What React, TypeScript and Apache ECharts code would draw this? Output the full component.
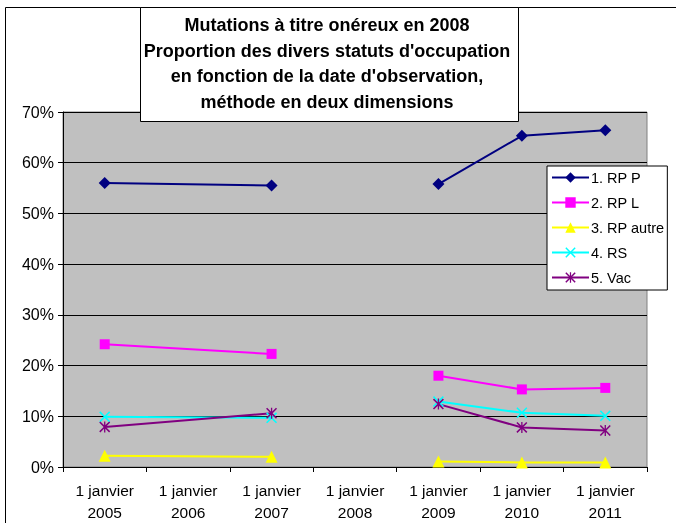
import React, { useEffect, useRef } from "react";
import * as echarts from "echarts";

const categories = ["1 janvier\n2005", "1 janvier\n2006", "1 janvier\n2007", "1 janvier\n2008", "1 janvier\n2009", "1 janvier\n2010", "1 janvier\n2011"];
// indices of categories holding observations (2006 absent, 2008 empty -> break)
const obsIndex = [0, 2, 3, 4, 5, 6];
const rpP = [56.0, 55.5, null, 55.8, 65.3, 66.4];
const rpL = [24.2, 22.3, null, 18.0, 15.3, 15.6];
const rpAutre = [2.2, 2.0, null, 1.1, 0.9, 0.9];
const rs = [9.9, 9.7, null, 12.9, 10.7, 10.1];
const vac = [7.9, 10.6, null, 12.4, 7.8, 7.2];
const seriesNames = ["1. RP P", "2. RP L", "3. RP autre", "4. RS", "5. Vac"];
const titleLines = [
  "Mutations à titre onéreux en 2008",
  "Proportion des divers statuts d'occupation",
  "en fonction de la date d'observation,",
  "méthode en deux dimensions",
];

const X_PATH = "path://M0,1 L1,0 L5,4 L9,0 L10,1 L6,5 L10,9 L9,10 L5,6 L1,10 L0,9 L4,5 Z";
const STAR_PATH = "path://M0,1 L1,0 L5,4 L9,0 L10,1 L6,5 L10,9 L9,10 L5,6 L1,10 L0,9 L4,5 Z M4.4,0 L5.6,0 L5.6,10 L4.4,10 Z";

function toPairs(vals: (number | null)[]) {
  return vals.map((v, i) => [obsIndex[i], v === null ? "-" : v]);
}

export default function App() {
  const ref = useRef<HTMLDivElement>(null);
  useEffect(() => {
    const chart = echarts.init(ref.current!, null, { renderer: "svg" });
    const font = "'Liberation Sans', Arial, sans-serif";
    const mk = (name: string, data: (number | null)[], color: string, symbol: string, size: number) => ({
      name,
      type: "line",
      data: toPairs(data),
      symbol,
      symbolSize: size,
      connectNulls: false,
      lineStyle: { color, width: 2 },
      itemStyle: { color },
    });
    chart.setOption({
      animation: false,
      textStyle: { fontFamily: font },
      grid: { left: 63, top: 112, width: 584, height: 355, show: true, backgroundColor: "#C0C0C0", borderColor: "#808080", borderWidth: 1 },
      xAxis: {
        type: "category",
        data: categories,
        boundaryGap: true,
        axisLine: { lineStyle: { color: "#000", width: 1 } },
        axisTick: { show: true, length: 5, lineStyle: { color: "#000" } },
        axisLabel: { color: "#000", fontSize: 15.5, lineHeight: 21.5, margin: 13, fontFamily: font, interval: 0 },
      },
      yAxis: {
        type: "value",
        min: 0,
        max: 70,
        interval: 10,
        axisLine: { show: true, lineStyle: { color: "#000", width: 1 } },
        axisTick: { show: true, length: 5, lineStyle: { color: "#000" } },
        axisLabel: { color: "#000", fontSize: 16, formatter: "{value}%", margin: 9, fontFamily: font },
        splitLine: { lineStyle: { color: "#000", width: 1 } },
      },
      legend: {
        orient: "vertical",
        left: 547,
        top: 166,
        padding: [4, 3, 5, 4],
        itemGap: 10,
        itemWidth: 37,
        itemHeight: 13,
        backgroundColor: "#fff",
        borderColor: "#000",
        borderWidth: 1,
        textStyle: { color: "#000", fontSize: 14.5, lineHeight: 15, fontFamily: font, padding: [0, 0, 0, -3] },
        data: seriesNames,
      },
      series: [
        mk(seriesNames[0], rpP, "#000080", "diamond", 12),
        mk(seriesNames[1], rpL, "#FF00FF", "rect", 10),
        mk(seriesNames[2], rpAutre, "#FFFF00", "triangle", 12),
        mk(seriesNames[3], rs, "#00FFFF", X_PATH, 11),
        mk(seriesNames[4], vac, "#800080", STAR_PATH, 11),
      ],
      graphic: [
        {
          type: "rect",
          z: -10,
          silent: true,
          shape: { x: 5.5, y: 7.5, width: 700, height: 600 },
          style: { fill: "#fff", stroke: "#000", lineWidth: 1 },
        },
        {
          type: "group",
          z: 100,
          children: [
            {
              type: "rect",
              shape: { x: 140.5, y: 7.5, width: 378, height: 114 },
              style: { fill: "#fff", stroke: "#000", lineWidth: 1 },
              z: 100,
            },
            ...titleLines.map((t, i) => ({
              type: "text",
              z: 101,
              x: 327,
              y: 25 + i * 25.5,
              style: {
                text: t,
                fill: "#000",
                font: `bold 18px ${font}`,
                textAlign: "center",
                textVerticalAlign: "middle",
              },
            })),
          ],
        },
      ],
    });
    return () => chart.dispose();
  }, []);
  return <div ref={ref} style={{ position: "fixed", left: 0, top: 0, width: 676, height: 523 }} />;
}
